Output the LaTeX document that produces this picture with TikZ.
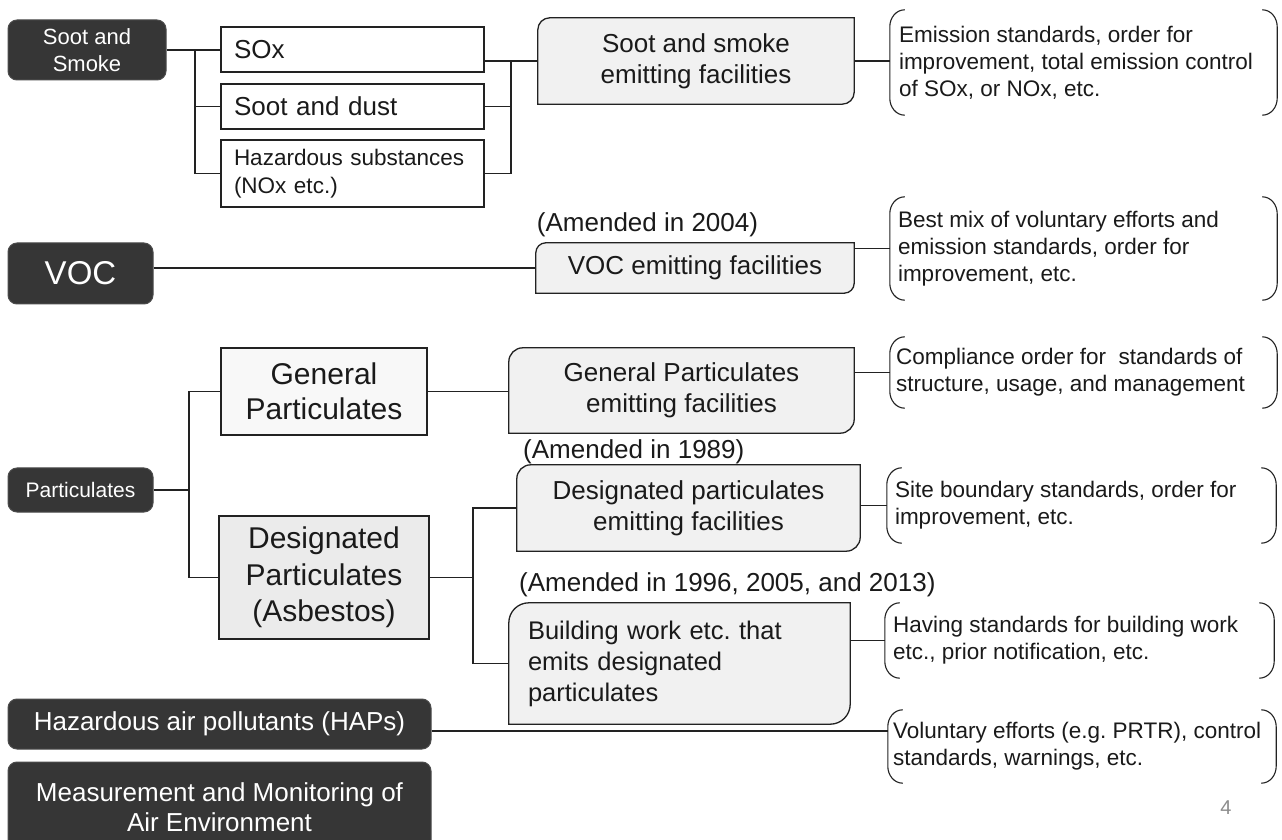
\documentclass[tikz,border=0pt]{standalone}
\usepackage{fontspec}
\setmainfont{Liberation Sans}
\frenchspacing
\pgfdeclarelayer{bg}
\pgfsetlayers{bg,main}
\definecolor{dk}{HTML}{363636}
\definecolor{facfill}{HTML}{F1F1F1}
\definecolor{dpfill}{HTML}{EBEBEB}
\definecolor{gpfill}{HTML}{F8F8F8}
\definecolor{ink}{HTML}{1A1A1A}
\definecolor{edge}{HTML}{222222}
\newcommand\fs[2]{\fontsize{#1pt}{#2pt}\selectfont}
\newcommand\facshape[3]{%
  \draw[facline, fill=#3] ([xshift=#2pt]#1.north west) -- (#1.north east)
    -- ([yshift=#2pt]#1.south east) arc[start angle=0,end angle=-90,radius=#2pt]
    -- (#1.south west) -- ([yshift=-#2pt]#1.north west)
    arc[start angle=180,end angle=90,radius=#2pt] -- cycle;}
\newcommand\brk[1]{%
  \draw[brkline] ([xshift=15pt]#1.north west) to[out=180,in=90] ([yshift=-17pt]#1.north west)
    -- ([yshift=17pt]#1.south west) to[out=-90,in=180] ([xshift=15pt]#1.south west);
  \draw[brkline] ([xshift=-15pt]#1.north east) to[out=0,in=90] ([yshift=-17pt]#1.north east)
    -- ([yshift=17pt]#1.south east) to[out=-90,in=0] ([xshift=-15pt]#1.south east);}
\begin{document}
\begin{tikzpicture}[x=1pt,y=1pt,
  darkbox/.style={fill=dk, draw=black!70, line width=1pt, rounded corners=9pt, text=white, align=center, inner sep=0pt},
  plainbox/.style={draw=edge, line width=1.3pt, fill=white, align=left, inner xsep=13pt, inner ysep=0pt, text width=237pt, text=ink},
  facbox/.style={inner sep=0pt, align=center, text=ink},
  sqbox/.style={draw=edge, line width=1.3pt, inner sep=0pt, align=center, text=ink},
  brkbox/.style={inner sep=0pt},
  brktext/.style={anchor=west, inner sep=0pt, align=left, text=ink, font=\fs{22.5}{27}},
  note/.style={inner sep=0pt, text=ink, font=\fs{26}{31}},
  conn/.style={line width=1.3pt, draw=edge},
  brkline/.style={line width=1.1pt, draw=edge},
  facline/.style={line width=1.3pt, draw=edge}
]
\useasboundingbox (0,0) rectangle (1282,839);
\clip (0,0) rectangle (1282,839);
\begin{pgfonlayer}{bg}
  \fill[white] (0,0) rectangle (1282,839);
\end{pgfonlayer}

% --- Soot and smoke ---
\node[darkbox, minimum width=158pt, minimum height=60pt, font=\fs{22}{27}] (ss) at (87,789) {Soot and\\Smoke};
\node[plainbox, minimum width=263pt, minimum height=45pt, font=\fs{26}{31}] (sox) at (352.5,789.5) {SOx};
\node[plainbox, minimum width=263pt, minimum height=45pt, font=\fs{26}{31}] (dust) at (352.5,732.5) {Soot and dust};
\node[plainbox, minimum width=263pt, minimum height=67pt, font=\fs{22.5}{28}] (haz) at (352.5,665.5) {Hazardous substances\\(NOx etc.)};
\node[facbox, minimum width=316pt, minimum height=86pt, font=\fs{26}{31}] (ssf) at (696,778) {Soot and smoke\\emitting facilities};
\node[brkbox, minimum width=387pt, minimum height=105pt] (br1) at (1083.5,776.5) {};
\node[brktext] (t1) at ([xshift=9pt]br1.west) {Emission standards, order for\\improvement, total emission control\\of SOx, or NOx, etc.};

% --- VOC ---
\node[note] (am04) at (647.5,614) {(Amended in 2004)};
\node[darkbox, minimum width=145pt, minimum height=61pt, font=\fs{33}{38}] (voc) at (80.5,565.5) {VOC};
\node[facbox, minimum width=318pt, minimum height=50pt, font=\fs{26}{31}] (vocf) at (695,571) {VOC emitting facilities};
\node[brkbox, minimum width=387pt, minimum height=103pt] (br2) at (1083.5,590.5) {};
\node[brktext] (t2) at ([xshift=8pt]br2.west) {Best mix of voluntary efforts and\\emission standards, order for\\improvement, etc.};

% --- Particulates ---
\node[sqbox, fill=gpfill, minimum width=206pt, minimum height=87pt, font=\fs{30}{35}] (gp) at (324,447.5) {General\\Particulates};
\node[facbox, minimum width=345pt, minimum height=85pt, font=\fs{26}{31}] (gpf) at (681.5,448.5) {General Particulates\\emitting facilities};
\node[brkbox, minimum width=387pt, minimum height=71pt] (br3) at (1083.5,466.5) {};
\node[brktext] (t3) at ([xshift=6pt]br3.west) {Compliance order for\ \ standards of\\structure, usage, and management};
\node[note, anchor=west] (am89) at (523,387) {(Amended in 1989)};
\node[facbox, minimum width=343pt, minimum height=86pt, font=\fs{26}{31}] (dpf) at (688.5,331) {Designated particulates\\emitting facilities};
\node[brkbox, minimum width=389pt, minimum height=75pt] (br4) at (1081.5,333.5) {};
\node[brktext] (t4) at ([xshift=8pt]br4.west) {Site boundary standards, order for\\improvement, etc.};
\node[darkbox, minimum width=145pt, minimum height=44pt, font=\fs{21}{25}] (part) at (80.5,349) {Particulates};
\node[sqbox, fill=dpfill, minimum width=210pt, minimum height=123pt, font=\fs{30}{36.5}] (dp) at (324,261.5) {Designated\\Particulates\\(Asbestos)};
\node[note, anchor=west] (am96) at (519,254) {(Amended in 1996, 2005, and 2013)};
\node[facbox, align=left, minimum width=341pt, minimum height=121pt, text width=303pt, inner xsep=19pt, font=\fs{25.5}{31}] (bw) at (679.5,175.5) {Building work etc. that\\emits designated\\particulates};
\node[brkbox, minimum width=389pt, minimum height=75pt] (br6) at (1079.5,198.5) {};
\node[brktext] (t6) at ([xshift=8pt]br6.west) {Having standards for building work\\etc., prior notification, etc.};

% --- HAPs and monitoring ---
\node[darkbox, minimum width=423pt, minimum height=50pt, font=\fs{26}{31}] (haps) at (219.5,115) {Hazardous air pollutants (HAPs)};
\node[brkbox, minimum width=388pt, minimum height=73pt] (br5) at (1082,92.5) {};
\node[brktext] (t5) at ([xshift=5pt]br5.west) {Voluntary efforts (e.g. PRTR), control\\standards, warnings, etc.};
\node[darkbox, minimum width=423pt, minimum height=90pt, font=\fs{26}{30}] (meas) at (219.5,32) {Measurement and Monitoring of\\Air Environment};
\node[note, text=black!45, font=\fs{20}{24}] (pg) at (1226,31) {4};

% --- facility shapes (behind text) ---
\begin{pgfonlayer}{bg}
  \facshape{ssf}{12}{facfill}
  \facshape{vocf}{10}{facfill}
  \facshape{gpf}{14}{facfill}
  \facshape{dpf}{14}{facfill}
  \facshape{bw}{20}{facfill}
\end{pgfonlayer}

% --- brackets ---
\brk{br1}\brk{br2}\brk{br3}\brk{br4}\brk{br6}\brk{br5}

% --- connectors ---
\coordinate (busA) at (195,0);
\coordinate (busB) at (511,0);
\coordinate (busC) at (189,0);
\coordinate (busD) at (473,0);
\draw[conn] (ss.east) -- (ss.east -| sox.west);
\draw[conn] (busA |- ss.east) |- (haz.west);
\draw[conn] (busA |- dust.west) -- (dust.west);
\draw[conn] (sox.east |- ssf.west) -- (ssf.west);
\draw[conn] (busB |- ssf.west) |- (haz.east);
\draw[conn] (dust.east) -- (busB |- dust.east);
\draw[conn] (ssf.east) -- (ssf.east -| br1.west);
\draw[conn] (voc.east |- vocf.west) -- (vocf.west);
\draw[conn] (vocf.east |- br2.west) -- (br2.west);
\draw[conn] (gp.east) -- (gp.east -| gpf.west);
\draw[conn] (gpf.east |- br3.west) -- (br3.west);
\draw[conn] (part.east) -- (part.east -| busC);
\draw[conn] (gp.west) -| (busC |- dp.west) -- (dp.west);
\draw[conn] (dp.east) -- (dp.east -| busD);
\draw[conn] (dpf.west) -| (busD |- bw.west) -- (bw.west);
\draw[conn] (dpf.east |- br4.west) -- (br4.west);
\draw[conn] (bw.east |- br6.west) -- (br6.west);
\coordinate (hapsout) at ([yshift=-7pt]haps.east);
\draw[conn] (hapsout) -- (hapsout -| br5.west);
\end{tikzpicture}
\end{document}
